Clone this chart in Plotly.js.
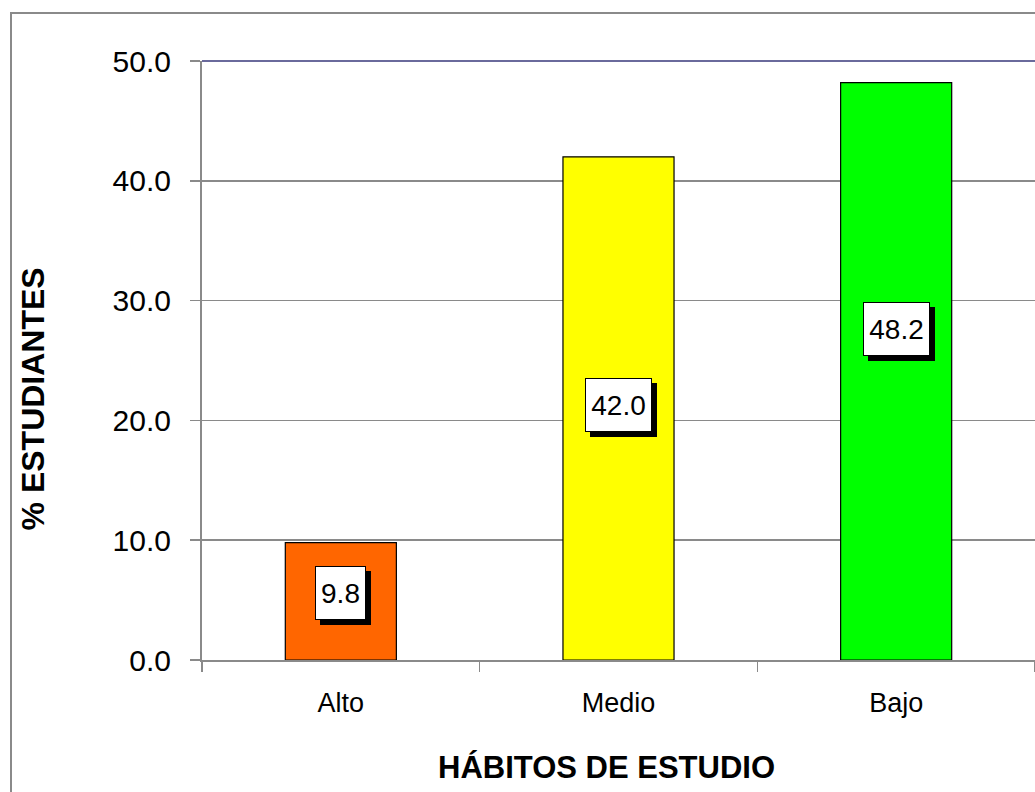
<!DOCTYPE html>
<html>
<head>
<meta charset="utf-8">
<script src="https://cdn.plot.ly/plotly-3.0.1.min.js"></script>
<style>
  html, body { margin: 0; padding: 0; background: #fff; overflow: hidden; }
  #frame { position: absolute; left: 10px; top: 12px; width: 1100px; height: 900px; border: 2px solid #8a8a8a; box-sizing: border-box; }
  #chart { position: absolute; left: 0; top: 0; width: 1035px; height: 792px; }
</style>
</head>
<body>
<div id="frame"></div>
<div id="chart"></div>
<script>
const categories = ["Alto", "Medio", "Bajo"];
const values = [9.8, 42.0, 48.2];
const barColors = ["#FF6600", "#FFFF00", "#00FF00"];
const yTickVals = [0, 10, 20, 30, 40, 50];
const yTickText = ["0.0", "10.0", "20.0", "30.0", "40.0", "50.0"];
const xTitle = "HÁBITOS DE ESTUDIO";
const yTitle = "% ESTUDIANTES";

const FONT = "Liberation Sans, Arial, sans-serif";
const LABEL_SIZE = 28;

// label vertical placement (fraction of bar height)
const labelFrac = [0.571, 0.507, 0.573];

const ctx = document.createElement('canvas').getContext('2d');
ctx.font = LABEL_SIZE + "px 'Liberation Sans', Arial, sans-serif";

const annotations = [];
categories.forEach((c, i) => {
  const txt = values[i].toFixed(1);
  const y = values[i] * labelFrac[i];
  const w = Math.ceil(ctx.measureText(txt).width) + 2;
  const common = {
    x: c, y: y, xref: 'x', yref: 'y', showarrow: false,
    font: {family: FONT, size: LABEL_SIZE, color: '#000'},
    borderwidth: 1, borderpad: 4, height: 44, width: w
  };
  // shadow box (no text)
  annotations.push(Object.assign({}, common, {
    text: ' ', bgcolor: '#000', bordercolor: '#000', xshift: 5, yshift: -5
  }));
  annotations.push(Object.assign({}, common, {
    text: txt, bgcolor: '#fff', bordercolor: '#000'
  }));
});
annotations.push({
  text: "<b>" + xTitle + "</b>", xref: 'paper', yref: 'paper',
  x: 0.485, xanchor: 'center', y: 0, yshift: -107, yanchor: 'middle',
  showarrow: false, font: {family: FONT, size: 31, color: '#000'}
});
annotations.push({
  text: "<b>" + yTitle + "</b>", xref: 'paper', yref: 'paper',
  x: 0, xshift: -169, xanchor: 'center', y: 0.435, yanchor: 'middle', textangle: -90,
  showarrow: false, font: {family: FONT, size: 32, color: '#000'}
});

const trace = {
  type: 'bar', x: categories, y: values,
  marker: {color: barColors, line: {color: '#000', width: 1.2}},
  width: 0.4, hoverinfo: 'none'
};

const layout = {
  width: 1035, height: 792,
  margin: {l: 202, r: 0, t: 61, b: 132},
  paper_bgcolor: 'rgba(0,0,0,0)', plot_bgcolor: 'rgba(0,0,0,0)',
  showlegend: false,
  font: {family: FONT, color: '#000'},
  xaxis: {
    type: 'category', range: [-0.5, 2.5],
    showgrid: false, showline: true, linecolor: '#8a8a8a', linewidth: 2,
    ticks: 'outside', tickson: 'boundaries', ticklen: 10, tickcolor: '#8a8a8a', tickwidth: 1.5,
    tickfont: {family: FONT, size: 27, color: '#000'}, ticklabelstandoff: 18
  },
  yaxis: {
    range: [0, 50], tickvals: yTickVals, ticktext: yTickText,
    showgrid: true, gridcolor: '#8a8a8a', gridwidth: 1.5,
    showline: true, linecolor: '#8a8a8a', linewidth: 2, zeroline: false,
    ticks: 'outside', ticklen: 10, tickcolor: '#8a8a8a', tickwidth: 1.5,
    tickfont: {family: FONT, size: 30, color: '#000'}, ticklabelstandoff: 13
  },
  shapes: [{
    type: 'line', xref: 'paper', yref: 'paper', x0: 0, x1: 1, y0: 1, y1: 1,
    line: {color: '#6a6a9c', width: 2}
  }],
  annotations: annotations
};

Plotly.newPlot('chart', [trace], layout, {staticPlot: true, displayModeBar: false});
</script>
</body>
</html>
